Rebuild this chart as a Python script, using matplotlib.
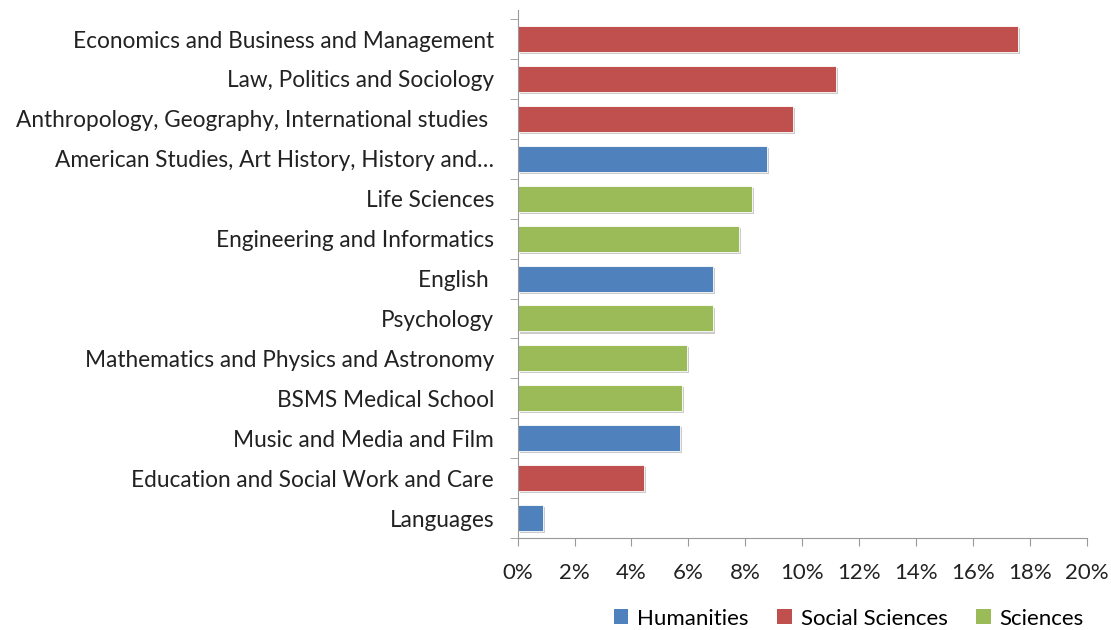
import numpy as np
import matplotlib.pyplot as plt
import matplotlib.patheffects as pe
from matplotlib.patches import Patch

plt.rcParams['font.family'] = ['Lato', 'DejaVu Sans']

# Data (top to bottom)
subjects = ['Economics and Business and Management',
            'Law, Politics and Sociology',
            'Anthropology, Geography, International studies ',
            'American Studies, Art History, History and\u2026',
            'Life Sciences',
            'Engineering and Informatics',
            'English ',
            'Psychology',
            'Mathematics and Physics and Astronomy',
            'BSMS Medical School',
            'Music and Media and Film',
            'Education and Social Work and Care',
            'Languages']
shares = [17.6, 11.2, 9.67, 8.77, 8.22, 7.77, 6.85, 6.85, 5.94, 5.78, 5.7, 4.43, 0.88]
groups = ['Social Sciences', 'Social Sciences', 'Social Sciences', 'Humanities',
          'Sciences', 'Sciences', 'Humanities', 'Sciences', 'Sciences',
          'Sciences', 'Humanities', 'Social Sciences', 'Humanities']
group_names = ['Humanities', 'Social Sciences', 'Sciences']
group_colors = {'Humanities': '#4F81BD', 'Social Sciences': '#C0504D', 'Sciences': '#9BBB59'}

fig = plt.figure(figsize=(11.11, 6.3), dpi=100)
ax = fig.add_axes([0.466, 0.146, 0.512, 0.838])

y = np.arange(len(subjects))[::-1]
shadow = [pe.SimplePatchShadow(offset=(1.5, -1.5), shadow_rgbFace='#999999', alpha=0.5), pe.Normal()]
bars = ax.barh(y, shares, height=0.65,
               color=[group_colors[g] for g in groups],
               edgecolor='white', linewidth=0.6)
for b in bars:
    b.set_path_effects(shadow)

ax.set_xlim(0, 20)
# axis line runs a little above the top category
ax.set_ylim(-0.5, len(subjects) - 0.5 + 0.225)
ax.set_xticks(np.arange(0, 21, 2))
ax.set_xticklabels([f'{v}%' for v in range(0, 21, 2)], fontsize=16, color='#222222')
ax.set_yticks(y)
ax.set_yticklabels(subjects, fontsize=16.3, color='#222222')
ax.set_yticks(np.arange(-0.5, len(subjects), 1), minor=True)
ax.tick_params(axis='y', which='major', length=0, pad=17)
ax.tick_params(axis='y', which='minor', length=6, color='#999999', direction='out')
ax.tick_params(axis='x', length=6, color='#999999', direction='out', pad=12)

for s in ['top', 'right']:
    ax.spines[s].set_visible(False)
ax.spines['left'].set_color('#999999')
ax.spines['bottom'].set_color('#999999')

handles = [Patch(facecolor=group_colors[g], label=g) for g in group_names]
fig.legend(handles=handles, loc='center', bbox_to_anchor=(0.764, 0.018),
           ncol=3, frameon=False, fontsize=16, handlelength=0.65, handleheight=0.65,
           handletextpad=0.4, columnspacing=1.3)

fig.savefig('out.png', dpi=100)
